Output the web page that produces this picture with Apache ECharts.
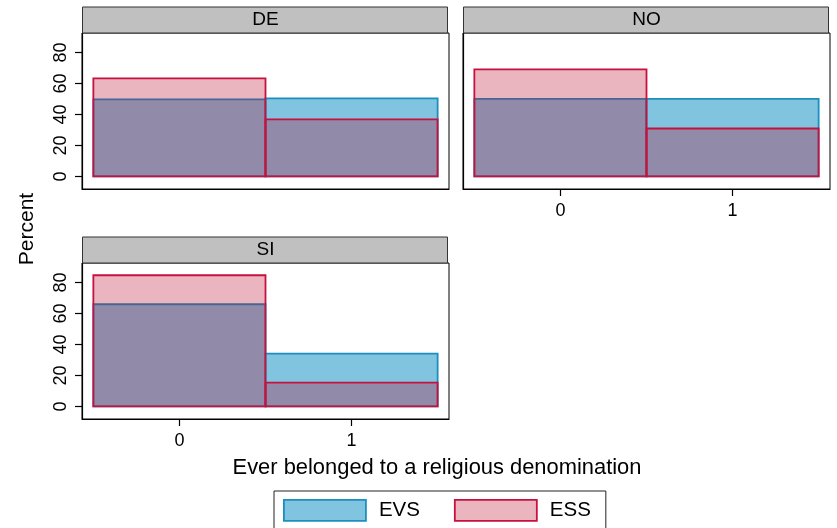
<!DOCTYPE html>
<html>
<head>
<meta charset="utf-8">
<script src="https://cdn.jsdelivr.net/npm/echarts@6/dist/echarts.min.js"></script>
<style>
  html, body { margin: 0; padding: 0; background: #fff; }
  #chart { width: 837px; height: 528px; }
</style>
</head>
<body>
<div id="chart"></div>
<script>
// Share of respondents who ever belonged to a religious denomination (0 = no, 1 = yes)
const categories = [0, 1];
const panels = ['DE', 'NO', 'SI'];
const evsDE = [49.7, 50.3];
const essDE = [63.2, 36.8];
const evsNO = [50.0, 50.0];
const essNO = [69.1, 30.9];
const evsSI = [65.9, 34.1];
const essSI = [84.6, 15.4];
const yTicks = [0, 20, 40, 60, 80];
const xTicks = [0, 1];

const FONT = '"Liberation Sans", Arial, Helvetica, sans-serif';
const EVS_FILL = '#80c4df';
const EVS_LINE = '#1a8fc0';
const ESS_FILL = 'rgba(186, 0, 38, 0.29)';
const ESS_LINE = '#c8103f';

// plot boxes (left, top) of the three facets; all share one size
const boxes = [
  { left: 82, top: 33 },
  { left: 463, top: 33 },
  { left: 82, top: 263 }
];
const BOX_W = 367, BOX_H = 156;

const valuesByPanel = {
  DE: { EVS: evsDE, ESS: essDE },
  NO: { EVS: evsNO, ESS: essNO },
  SI: { EVS: evsSI, ESS: essSI }
};

function barRenderer(fill, stroke) {
  return function (params, api) {
    const c = api.value(0);
    const v = api.value(1);
    const tl = api.coord([c - 0.5, v]);
    const br = api.coord([c + 0.5, 0]);
    return {
      type: 'rect',
      shape: { x: tl[0], y: tl[1], width: br[0] - tl[0], height: br[1] - tl[1] },
      style: { fill: fill, stroke: stroke, lineWidth: 1.8 }
    };
  };
}

const grid = [], xAxis = [], yAxis = [], series = [], graphic = [];

panels.forEach(function (name, i) {
  const b = boxes[i];
  grid.push({
    left: b.left, top: b.top, width: BOX_W, height: BOX_H,
    show: true, borderColor: '#000', borderWidth: 1, backgroundColor: '#fff'
  });
  const showX = name !== 'DE';
  const showY = name !== 'NO';
  xAxis.push({
    gridIndex: i, type: 'value', min: -0.566, max: 1.566,
    splitLine: { show: false },
    axisLine: { show: true, onZero: false, lineStyle: { color: '#000', width: 1.2 } },
    axisTick: { show: showX, length: 7, customValues: xTicks, lineStyle: { color: '#000', width: 1.2 } },
    axisLabel: { show: showX, customValues: xTicks, margin: 13, color: '#000', fontSize: 18, fontFamily: FONT }
  });
  yAxis.push({
    gridIndex: i, type: 'value', min: -8.1, max: 92.5,
    splitLine: { show: false },
    axisLine: { show: true, onZero: false, lineStyle: { color: '#000', width: 1.2 } },
    axisTick: { show: showY, length: 7, customValues: yTicks, lineStyle: { color: '#000', width: 1.2 } },
    axisLabel: { show: showY, customValues: yTicks, rotate: 90, margin: 12, color: '#000', fontSize: 18, fontFamily: FONT }
  });
  const vals = valuesByPanel[name];
  series.push({
    name: 'EVS', type: 'custom', xAxisIndex: i, yAxisIndex: i,
    itemStyle: { color: EVS_FILL },
    renderItem: barRenderer(EVS_FILL, EVS_LINE),
    data: categories.map(function (c, k) { return [c, vals.EVS[k]]; })
  });
  series.push({
    name: 'ESS', type: 'custom', xAxisIndex: i, yAxisIndex: i,
    itemStyle: { color: ESS_FILL },
    renderItem: barRenderer(ESS_FILL, ESS_LINE),
    data: categories.map(function (c, k) { return [c, vals.ESS[k]]; })
  });

  // facet header strip
  graphic.push({
    type: 'rect',
    shape: { x: b.left + 0.5, y: b.top - 26, width: BOX_W - 2, height: 26 },
    style: { fill: '#c0c0c0', stroke: '#333', lineWidth: 1 },
    z: 10
  });
  graphic.push({
    type: 'text',
    x: b.left + BOX_W / 2, y: b.top - 13,
    style: { text: name, font: '19px ' + FONT, fill: '#000', align: 'center', verticalAlign: 'middle' },
    z: 11
  });
});

graphic.push({
  type: 'text', x: 27, y: 229, rotation: Math.PI / 2,
  style: { text: 'Percent', font: '21px ' + FONT, fill: '#000', align: 'center', verticalAlign: 'middle' }
});
graphic.push({
  type: 'text', x: 437, y: 468,
  style: { text: 'Ever belonged to a religious denomination', font: '21.9px ' + FONT, fill: '#000', align: 'center', verticalAlign: 'middle' }
});

const chart = echarts.init(document.getElementById('chart'), null, { renderer: 'canvas' });
chart.setOption({
  animation: false,
  backgroundColor: '#fff',
  grid: grid,
  xAxis: xAxis,
  yAxis: yAxis,
  series: series,
  graphic: graphic,
  legend: {
    left: 274, top: 491,
    orient: 'horizontal',
    padding: [8, 15, 10, 9],
    itemGap: 34,
    itemWidth: 82, itemHeight: 21,
    borderColor: '#222', borderWidth: 1,
    icon: 'rect',
    textStyle: { fontSize: 20.5, fontFamily: FONT, color: '#000', padding: [0, 0, 0, 8] },
    data: [
      { name: 'EVS', itemStyle: { color: EVS_FILL, borderColor: EVS_LINE, borderWidth: 1.8 } },
      { name: 'ESS', itemStyle: { color: ESS_FILL, borderColor: ESS_LINE, borderWidth: 1.8 } }
    ]
  }
});
</script>
</body>
</html>
